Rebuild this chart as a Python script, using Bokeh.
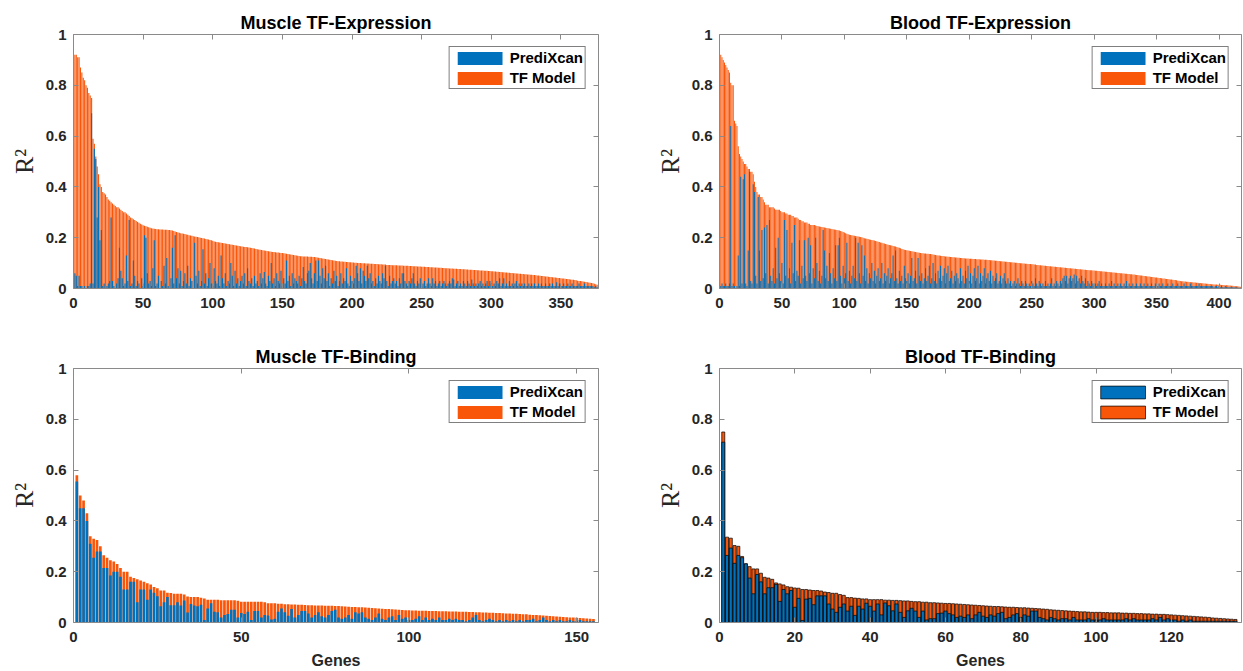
from bokeh.plotting import figure
from bokeh.models import (ColumnDataSource, Range1d, LinearAxis, FixedTicker,
                          NumeralTickFormatter, Legend, LegendItem)
from bokeh.layouts import column, row
from bokeh.embed import file_html
from bokeh.resources import INLINE

# ---------------- data ----------------
series_names = ["PrediXcan", "TF Model"]
panel_titles = ["Muscle TF-Expression", "Blood TF-Expression", "Muscle TF-Binding", "Blood TF-Binding"]
y_ticks = [0, 0.2, 0.4, 0.6, 0.8, 1]
x_ticks_muscle_expr = [0, 50, 100, 150, 200, 250, 300, 350]
x_ticks_blood_expr = [0, 50, 100, 150, 200, 250, 300, 350, 400]
x_ticks_muscle_bind = [0, 50, 100, 150]
x_ticks_blood_bind = [0, 20, 40, 60, 80, 100, 120]

muscle_expr_tf = [
    0.92, 0.92, 0.91, 0.91, 0.87, 0.85, 0.83, 0.82, 0.80, 0.79,
    0.77, 0.76, 0.75, 0.59, 0.57, 0.52, 0.48, 0.45, 0.41, 0.40,
    0.38, 0.375, 0.37, 0.36, 0.35, 0.345, 0.34, 0.335, 0.33, 0.325,
    0.32, 0.32, 0.315, 0.31, 0.305, 0.30, 0.30, 0.295, 0.29, 0.285,
    0.280, 0.277, 0.273, 0.270, 0.266, 0.262, 0.259, 0.255, 0.252, 0.249,
    0.247, 0.245, 0.243, 0.241, 0.239, 0.237, 0.236, 0.235, 0.234, 0.233,
    0.233, 0.232, 0.232, 0.232, 0.231, 0.231, 0.231, 0.230, 0.230, 0.229,
    0.228, 0.226, 0.224, 0.222, 0.220, 0.219, 0.218, 0.217, 0.216, 0.215,
    0.213, 0.212, 0.210, 0.209, 0.208, 0.206, 0.205, 0.204, 0.203, 0.202,
    0.200, 0.199, 0.198, 0.197, 0.195, 0.194, 0.193, 0.191, 0.190, 0.188,
    0.185, 0.184, 0.183, 0.182, 0.181, 0.180, 0.179, 0.178, 0.177, 0.176,
    0.175, 0.174, 0.173, 0.172, 0.171, 0.170, 0.169, 0.168, 0.167, 0.166,
    0.165, 0.164, 0.163, 0.163, 0.162, 0.161, 0.160, 0.159, 0.158, 0.157,
    0.156, 0.155, 0.154, 0.153, 0.152, 0.151, 0.150, 0.149, 0.148, 0.147,
    0.146, 0.145, 0.144, 0.144, 0.143, 0.142, 0.142, 0.141, 0.140, 0.140,
    0.139, 0.138, 0.137, 0.136, 0.135, 0.134, 0.133, 0.132, 0.131, 0.130,
    0.129, 0.128, 0.127, 0.127, 0.126, 0.126, 0.126, 0.126, 0.125, 0.125,
    0.125, 0.124, 0.124, 0.123, 0.122, 0.121, 0.120, 0.119, 0.118, 0.117,
    0.116, 0.115, 0.114, 0.113, 0.112, 0.111, 0.110, 0.109, 0.108, 0.107,
    0.107, 0.106, 0.106, 0.105, 0.105, 0.104, 0.104, 0.103, 0.103, 0.102,
    0.102, 0.101, 0.101, 0.100, 0.100, 0.100, 0.099, 0.099, 0.099, 0.098,
    0.098, 0.098, 0.097, 0.097, 0.097, 0.096, 0.096, 0.096, 0.095, 0.095,
    0.095, 0.094, 0.094, 0.094, 0.093, 0.093, 0.093, 0.093, 0.092, 0.092,
    0.092, 0.092, 0.091, 0.091, 0.091, 0.091, 0.090, 0.090, 0.090, 0.090,
    0.089, 0.089, 0.089, 0.088, 0.088, 0.088, 0.087, 0.087, 0.087, 0.086,
    0.086, 0.086, 0.085, 0.085, 0.085, 0.084, 0.084, 0.084, 0.083, 0.083,
    0.083, 0.082, 0.082, 0.082, 0.081, 0.081, 0.080, 0.080, 0.080, 0.079,
    0.079, 0.079, 0.078, 0.078, 0.078, 0.077, 0.077, 0.077, 0.076, 0.076,
    0.076, 0.075, 0.075, 0.074, 0.074, 0.074, 0.073, 0.073, 0.073, 0.072,
    0.072, 0.071, 0.071, 0.071, 0.070, 0.070, 0.070, 0.069, 0.069, 0.068,
    0.068, 0.067, 0.067, 0.066, 0.066, 0.065, 0.065, 0.064, 0.064, 0.063,
    0.063, 0.062, 0.062, 0.061, 0.061, 0.060, 0.060, 0.059, 0.059, 0.058,
    0.058, 0.057, 0.057, 0.056, 0.056, 0.055, 0.055, 0.054, 0.054, 0.053,
    0.053, 0.052, 0.051, 0.051, 0.050, 0.049, 0.049, 0.048, 0.047, 0.047,
    0.046, 0.045, 0.045, 0.044, 0.043, 0.043, 0.042, 0.041, 0.041, 0.040,
    0.039, 0.039, 0.038, 0.037, 0.037, 0.036, 0.035, 0.034, 0.034, 0.033,
    0.032, 0.031, 0.030, 0.030, 0.029, 0.028, 0.027, 0.026, 0.025, 0.024,
    0.023, 0.022, 0.021, 0.019, 0.017, 0.015,
]
muscle_expr_px = [
    0.06, 0.05, 0.01, 0.05, 0.01, 0.01, 0.00, 0.01, 0.00, 0.01,
    0.01, 0.02, 0.69, 0.02, 0.55, 0.51, 0.28, 0.40, 0.19, 0.23,
    0.01, 0.02, 0.00, 0.01, 0.02, 0.03, 0.28, 0.03, 0.01, 0.00,
    0.02, 0.04, 0.16, 0.07, 0.04, 0.01, 0.02, 0.13, 0.03, 0.27,
    0.01, 0.02, 0.11, 0.05, 0.01, 0.03, 0.02, 0.00, 0.04, 0.01,
    0.21, 0.20, 0.06, 0.02, 0.03, 0.01, 0.08, 0.19, 0.01, 0.02,
    0.05, 0.00, 0.03, 0.01, 0.09, 0.02, 0.12, 0.01, 0.00, 0.04,
    0.16, 0.02, 0.21, 0.04, 0.08, 0.02, 0.07, 0.01, 0.03, 0.06,
    0.02, 0.09, 0.01, 0.04, 0.03, 0.00, 0.18, 0.05, 0.02, 0.07,
    0.01, 0.03, 0.155, 0.02, 0.06, 0.01, 0.04, 0.10, 0.02, 0.01,
    0.08, 0.03, 0.02, 0.05, 0.01, 0.13, 0.04, 0.02, 0.06, 0.01,
    0.03, 0.02, 0.10, 0.05, 0.01, 0.07, 0.02, 0.04, 0.01, 0.03,
    0.05, 0.02, 0.06, 0.01, 0.08, 0.03, 0.02, 0.04, 0.01, 0.05,
    0.02, 0.03, 0.01, 0.06, 0.02, 0.04, 0.065, 0.02, 0.01, 0.05,
    0.03, 0.10, 0.02, 0.04, 0.01, 0.06, 0.03, 0.02, 0.07, 0.01,
    0.04, 0.02, 0.11, 0.03, 0.05, 0.01, 0.06, 0.02, 0.04, 0.03,
    0.02, 0.05, 0.01, 0.04, 0.085, 0.03, 0.02, 0.06, 0.07, 0.10,
    0.04, 0.02, 0.06, 0.11, 0.03, 0.11, 0.05, 0.02, 0.08, 0.04,
    0.09, 0.03, 0.06, 0.01, 0.04, 0.02, 0.07, 0.03, 0.05, 0.01,
    0.03, 0.06, 0.02, 0.04, 0.03, 0.08, 0.02, 0.01, 0.05, 0.03,
    0.02, 0.04, 0.09, 0.06, 0.03, 0.08, 0.02, 0.07, 0.05, 0.03,
    0.09, 0.04, 0.06, 0.02, 0.03, 0.01, 0.04, 0.02, 0.05, 0.03,
    0.02, 0.06, 0.04, 0.09, 0.03, 0.01, 0.05, 0.02, 0.03, 0.04,
    0.02, 0.03, 0.01, 0.04, 0.02, 0.06, 0.06, 0.03, 0.02, 0.01,
    0.03, 0.02, 0.04, 0.06, 0.02, 0.01, 0.03, 0.02, 0.04, 0.01,
    0.02, 0.03, 0.01, 0.02, 0.04, 0.02, 0.01, 0.04, 0.02, 0.03,
    0.01, 0.02, 0.03, 0.01, 0.02, 0.03, 0.02, 0.01, 0.02, 0.03,
    0.02, 0.04, 0.035, 0.01, 0.02, 0.03, 0.01, 0.02, 0.01, 0.03,
    0.02, 0.01, 0.03, 0.02, 0.01, 0.035, 0.02, 0.01, 0.02, 0.01,
    0.02, 0.03, 0.01, 0.02, 0.01, 0.02, 0.03, 0.01, 0.03, 0.02,
    0.01, 0.02, 0.01, 0.03, 0.02, 0.04, 0.01, 0.02, 0.04, 0.01,
    0.02, 0.01, 0.03, 0.01, 0.02, 0.01, 0.02, 0.03, 0.01, 0.02,
    0.01, 0.02, 0.01, 0.02, 0.01, 0.01, 0.02, 0.01, 0.02, 0.01,
    0.02, 0.01, 0.01, 0.02, 0.01, 0.02, 0.01, 0.01, 0.02, 0.01,
    0.01, 0.02, 0.01, 0.02, 0.01, 0.01, 0.025, 0.01, 0.02, 0.01,
    0.01, 0.02, 0.01, 0.01, 0.02, 0.01, 0.01, 0.02, 0.01, 0.01,
    0.01, 0.01, 0.02, 0.01, 0.01, 0.01, 0.02, 0.01, 0.01, 0.01,
    0.01, 0.01, 0.01, 0.005, 0.01, 0.005,
]

blood_expr_tf = [
    0.92, 0.91, 0.90, 0.89, 0.88, 0.87, 0.86, 0.85, 0.81, 0.80,
    0.80, 0.66, 0.65, 0.64, 0.56, 0.53, 0.52, 0.51, 0.50, 0.49,
    0.49, 0.48, 0.47, 0.47, 0.46, 0.46, 0.45, 0.42, 0.40, 0.38,
    0.37, 0.37, 0.36, 0.36, 0.35, 0.34, 0.33, 0.33, 0.33, 0.32,
    0.32, 0.32, 0.32, 0.315, 0.31, 0.31, 0.31, 0.31, 0.305, 0.30,
    0.30, 0.30, 0.295, 0.295, 0.29, 0.29, 0.29, 0.285, 0.285, 0.28,
    0.28, 0.28, 0.275, 0.27, 0.27, 0.265, 0.265, 0.26, 0.26, 0.26,
    0.255, 0.255, 0.25, 0.25, 0.25, 0.25, 0.248, 0.246, 0.245, 0.244,
    0.243, 0.242, 0.241, 0.240, 0.239, 0.238, 0.237, 0.236, 0.235, 0.234,
    0.233, 0.232, 0.231, 0.230, 0.229, 0.228, 0.226, 0.224, 0.222, 0.220,
    0.218, 0.216, 0.214, 0.212, 0.211, 0.210, 0.209, 0.208, 0.207, 0.206,
    0.205, 0.204, 0.203, 0.202, 0.200, 0.198, 0.197, 0.196, 0.195, 0.193,
    0.192, 0.191, 0.190, 0.189, 0.187, 0.186, 0.184, 0.183, 0.181, 0.180,
    0.178, 0.177, 0.175, 0.174, 0.172, 0.171, 0.170, 0.169, 0.167, 0.166,
    0.165, 0.163, 0.161, 0.160, 0.158, 0.156, 0.155, 0.153, 0.152, 0.151,
    0.150, 0.149, 0.148, 0.147, 0.146, 0.145, 0.144, 0.143, 0.142, 0.141,
    0.140, 0.139, 0.139, 0.138, 0.138, 0.137, 0.137, 0.136, 0.136, 0.135,
    0.134, 0.133, 0.132, 0.131, 0.130, 0.130, 0.129, 0.128, 0.128, 0.127,
    0.126, 0.126, 0.125, 0.125, 0.124, 0.124, 0.123, 0.123, 0.122, 0.122,
    0.121, 0.121, 0.120, 0.120, 0.119, 0.119, 0.118, 0.118, 0.118, 0.117,
    0.117, 0.117, 0.116, 0.116, 0.116, 0.115, 0.115, 0.115, 0.114, 0.114,
    0.114, 0.113, 0.113, 0.113, 0.112, 0.112, 0.111, 0.111, 0.110, 0.110,
    0.109, 0.109, 0.108, 0.108, 0.107, 0.107, 0.106, 0.106, 0.105, 0.105,
    0.104, 0.104, 0.103, 0.103, 0.102, 0.102, 0.101, 0.101, 0.100, 0.100,
    0.099, 0.099, 0.098, 0.098, 0.097, 0.097, 0.096, 0.096, 0.096, 0.095,
    0.095, 0.094, 0.094, 0.093, 0.093, 0.092, 0.092, 0.091, 0.091, 0.090,
    0.090, 0.089, 0.089, 0.088, 0.088, 0.087, 0.087, 0.086, 0.086, 0.085,
    0.085, 0.084, 0.084, 0.083, 0.083, 0.082, 0.082, 0.081, 0.081, 0.080,
    0.080, 0.079, 0.079, 0.078, 0.078, 0.077, 0.077, 0.076, 0.076, 0.075,
    0.075, 0.074, 0.074, 0.073, 0.073, 0.072, 0.072, 0.072, 0.071, 0.071,
    0.070, 0.070, 0.069, 0.069, 0.068, 0.068, 0.067, 0.067, 0.066, 0.066,
    0.065, 0.065, 0.064, 0.064, 0.063, 0.063, 0.062, 0.062, 0.061, 0.061,
    0.060, 0.060, 0.059, 0.059, 0.058, 0.058, 0.057, 0.057, 0.056, 0.056,
    0.055, 0.055, 0.054, 0.053, 0.053, 0.052, 0.051, 0.051, 0.050, 0.049,
    0.049, 0.048, 0.047, 0.047, 0.046, 0.045, 0.045, 0.044, 0.043, 0.043,
    0.042, 0.041, 0.041, 0.040, 0.039, 0.039, 0.038, 0.037, 0.037, 0.036,
    0.035, 0.035, 0.034, 0.033, 0.033, 0.032, 0.031, 0.031, 0.030, 0.029,
    0.029, 0.028, 0.028, 0.027, 0.027, 0.026, 0.026, 0.025, 0.025, 0.024,
    0.024, 0.023, 0.023, 0.022, 0.022, 0.021, 0.021, 0.020, 0.020, 0.019,
    0.019, 0.018, 0.018, 0.017, 0.017, 0.016, 0.016, 0.016, 0.015, 0.015,
    0.015, 0.014, 0.014, 0.014, 0.013, 0.013, 0.013, 0.012, 0.012, 0.011,
    0.011, 0.010, 0.010, 0.009, 0.009, 0.008, 0.007,
]
blood_expr_px = [
    0.01, 0.02, 0.01, 0.01, 0.02, 0.01, 0.01, 0.02, 0.64, 0.01,
    0.02, 0.01, 0.00, 0.01, 0.13, 0.01, 0.44, 0.02, 0.43, 0.45,
    0.02, 0.01, 0.15, 0.46, 0.03, 0.02, 0.41, 0.38, 0.05, 0.02,
    0.36, 0.15, 0.03, 0.23, 0.04, 0.24, 0.06, 0.25, 0.02, 0.27,
    0.05, 0.03, 0.08, 0.02, 0.16, 0.04, 0.20, 0.06, 0.03, 0.10,
    0.02, 0.27, 0.05, 0.23, 0.04, 0.08, 0.02, 0.18, 0.06, 0.25,
    0.03, 0.07, 0.05, 0.19, 0.02, 0.09, 0.04, 0.19, 0.05, 0.03,
    0.20, 0.06, 0.17, 0.02, 0.08, 0.04, 0.20, 0.10, 0.03, 0.07,
    0.02, 0.05, 0.23, 0.15, 0.04, 0.09, 0.03, 0.14, 0.06, 0.02,
    0.08, 0.04, 0.17, 0.03, 0.17, 0.20, 0.05, 0.02, 0.09, 0.04,
    0.06, 0.18, 0.03, 0.07, 0.02, 0.05, 0.09, 0.04, 0.20, 0.03,
    0.18, 0.06, 0.02, 0.17, 0.05, 0.13, 0.03, 0.08, 0.02, 0.06,
    0.04, 0.10, 0.03, 0.07, 0.02, 0.05, 0.08, 0.03, 0.04, 0.10,
    0.02, 0.06, 0.03, 0.05, 0.08, 0.02, 0.04, 0.06, 0.13, 0.03,
    0.15, 0.04, 0.02, 0.07, 0.03, 0.05, 0.02, 0.09, 0.04, 0.03,
    0.06, 0.02, 0.05, 0.12, 0.03, 0.04, 0.07, 0.02, 0.12, 0.05,
    0.03, 0.06, 0.02, 0.04, 0.08, 0.03, 0.05, 0.09, 0.02, 0.04,
    0.10, 0.03, 0.06, 0.02, 0.07, 0.04, 0.09, 0.03, 0.05, 0.08,
    0.02, 0.06, 0.09, 0.03, 0.04, 0.07, 0.02, 0.05, 0.03, 0.06,
    0.04, 0.02, 0.08, 0.03, 0.05, 0.02, 0.07, 0.04, 0.09, 0.03,
    0.06, 0.02, 0.05, 0.08, 0.03, 0.04, 0.09, 0.02, 0.06, 0.03,
    0.05, 0.08, 0.02, 0.04, 0.06, 0.03, 0.07, 0.02, 0.05, 0.03,
    0.04, 0.06, 0.02, 0.03, 0.05, 0.02, 0.04, 0.06, 0.03, 0.02,
    0.04, 0.02, 0.03, 0.01, 0.02, 0.03, 0.01, 0.02, 0.04, 0.02,
    0.01, 0.03, 0.02, 0.01, 0.03, 0.02, 0.01, 0.02, 0.01, 0.03,
    0.02, 0.01, 0.04, 0.02, 0.01, 0.03, 0.02, 0.01, 0.02, 0.01,
    0.03, 0.01, 0.02, 0.01, 0.02, 0.04, 0.01, 0.02, 0.01, 0.03,
    0.02, 0.01, 0.03, 0.02, 0.04, 0.05, 0.03, 0.05, 0.02, 0.04,
    0.05, 0.03, 0.04, 0.055, 0.02, 0.05, 0.03, 0.04, 0.02, 0.05,
    0.03, 0.02, 0.04, 0.01, 0.03, 0.02, 0.01, 0.03, 0.02, 0.01,
    0.02, 0.01, 0.02, 0.03, 0.01, 0.02, 0.01, 0.01, 0.02, 0.01,
    0.01, 0.02, 0.01, 0.03, 0.01, 0.02, 0.01, 0.01, 0.02, 0.01,
    0.02, 0.01, 0.01, 0.02, 0.01, 0.03, 0.01, 0.02, 0.01, 0.01,
    0.02, 0.01, 0.01, 0.02, 0.01, 0.01, 0.02, 0.01, 0.01, 0.02,
    0.01, 0.01, 0.02, 0.01, 0.01, 0.02, 0.01, 0.01, 0.02, 0.01,
    0.01, 0.02, 0.01, 0.01, 0.02, 0.01, 0.01, 0.01, 0.02, 0.01,
    0.01, 0.01, 0.02, 0.01, 0.01, 0.01, 0.02, 0.01, 0.01, 0.01,
    0.01, 0.02, 0.01, 0.01, 0.01, 0.01, 0.02, 0.01, 0.01, 0.01,
    0.01, 0.01, 0.01, 0.02, 0.01, 0.01, 0.01, 0.01, 0.01, 0.01,
    0.01, 0.01, 0.01, 0.01, 0.01, 0.005, 0.01, 0.01, 0.005, 0.01,
    0.005, 0.01, 0.005, 0.005, 0.01, 0.005, 0.005, 0.005, 0.005, 0.005,
    0.005, 0.005, 0.005, 0.004, 0.004, 0.003, 0.003,
]

muscle_bind_tf = [
    0.58, 0.50, 0.48, 0.43, 0.34, 0.33, 0.325, 0.30, 0.265, 0.255,
    0.245, 0.24, 0.23, 0.215, 0.20, 0.20, 0.18, 0.175, 0.17, 0.165,
    0.16, 0.155, 0.15, 0.14, 0.135, 0.126, 0.126, 0.117, 0.116, 0.113,
    0.113, 0.113, 0.11, 0.102, 0.10, 0.10, 0.10, 0.097, 0.094, 0.09,
    0.09, 0.09, 0.09, 0.088, 0.088, 0.088, 0.088, 0.088, 0.086, 0.082,
    0.082, 0.082, 0.082, 0.082, 0.082, 0.082, 0.08, 0.076, 0.076, 0.076,
    0.074, 0.074, 0.072, 0.072, 0.071, 0.071, 0.070, 0.070, 0.069, 0.068,
    0.068, 0.067, 0.067, 0.067, 0.066, 0.066, 0.066, 0.065, 0.065, 0.064,
    0.063, 0.062, 0.061, 0.061, 0.060, 0.060, 0.059, 0.058, 0.057, 0.056,
    0.055, 0.054, 0.053, 0.053, 0.052, 0.051, 0.050, 0.049, 0.048, 0.048,
    0.047, 0.047, 0.046, 0.046, 0.046, 0.045, 0.045, 0.045, 0.044, 0.044,
    0.044, 0.043, 0.043, 0.043, 0.042, 0.042, 0.042, 0.041, 0.041, 0.040,
    0.040, 0.039, 0.039, 0.038, 0.038, 0.037, 0.037, 0.036, 0.035, 0.035,
    0.034, 0.034, 0.033, 0.032, 0.032, 0.031, 0.030, 0.030, 0.029, 0.028,
    0.027, 0.026, 0.025, 0.024, 0.023, 0.022, 0.021, 0.020, 0.020, 0.019,
    0.018, 0.017, 0.016, 0.015, 0.014,
]
muscle_bind_px = [
    0.555, 0.45, 0.45, 0.40, 0.31, 0.255, 0.28, 0.28, 0.215, 0.215,
    0.185, 0.20, 0.20, 0.18, 0.13, 0.13, 0.16, 0.16, 0.08, 0.13,
    0.13, 0.09, 0.13, 0.117, 0.103, 0.064, 0.08, 0.10, 0.068, 0.068,
    0.08, 0.067, 0.087, 0.039, 0.073, 0.067, 0.064, 0.07, 0.01, 0.055,
    0.076, 0.042, 0.04, 0.02, 0.03, 0.033, 0.05, 0.05, 0.02, 0.037,
    0.033, 0.042, 0.01, 0.045, 0.045, 0.02, 0.03, 0.028, 0.012, 0.015,
    0.042, 0.055, 0.04, 0.027, 0.053, 0.02, 0.03, 0.045, 0.045, 0.035,
    0.02, 0.03, 0.04, 0.025, 0.02, 0.03, 0.045, 0.05, 0.02, 0.015,
    0.02, 0.03, 0.015, 0.04, 0.035, 0.04, 0.02, 0.015, 0.01, 0.02,
    0.035, 0.015, 0.01, 0.02, 0.025, 0.01, 0.03, 0.015, 0.02, 0.01,
    0.01, 0.015, 0.025, 0.01, 0.02, 0.01, 0.015, 0.01, 0.02, 0.01,
    0.01, 0.015, 0.01, 0.015, 0.01, 0.01, 0.005, 0.01, 0.02, 0.03,
    0.01, 0.005, 0.01, 0.015, 0.01, 0.005, 0.01, 0.005, 0.01, 0.005,
    0.01, 0.005, 0.01, 0.005, 0.01, 0.01, 0.015, 0.005, 0.01, 0.02,
    0.01, 0.005, 0.01, 0.005, 0.01, 0.005, 0.005, 0.01, 0.005, 0.005,
    0.01, 0.005, 0.005, 0.005, 0.005,
]

blood_bind_tf = [
    0.75, 0.336, 0.332, 0.303, 0.30, 0.26, 0.231, 0.22, 0.211, 0.211,
    0.194, 0.178, 0.175, 0.17, 0.156, 0.152, 0.148, 0.141, 0.139, 0.136,
    0.135, 0.13, 0.13, 0.128, 0.126, 0.126, 0.124, 0.12, 0.118, 0.115,
    0.115, 0.11, 0.107, 0.098, 0.098, 0.096, 0.095, 0.093, 0.093, 0.09,
    0.09, 0.09, 0.09, 0.088, 0.088, 0.087, 0.087, 0.086, 0.085, 0.085,
    0.083, 0.082, 0.082, 0.08, 0.08, 0.078, 0.078, 0.077, 0.076, 0.075,
    0.075, 0.074, 0.073, 0.072, 0.071, 0.070, 0.069, 0.068, 0.067, 0.066,
    0.065, 0.064, 0.063, 0.063, 0.062, 0.061, 0.060, 0.060, 0.059, 0.058,
    0.058, 0.057, 0.056, 0.055, 0.054, 0.053, 0.052, 0.050, 0.049, 0.048,
    0.047, 0.046, 0.045, 0.044, 0.043, 0.042, 0.042, 0.041, 0.040, 0.040,
    0.040, 0.039, 0.039, 0.038, 0.038, 0.038, 0.037, 0.037, 0.036, 0.036,
    0.035, 0.035, 0.034, 0.034, 0.033, 0.033, 0.032, 0.032, 0.031, 0.030,
    0.029, 0.028, 0.027, 0.026, 0.025, 0.024, 0.023, 0.022, 0.021, 0.020,
    0.018, 0.017, 0.016, 0.015, 0.014, 0.013, 0.012,
]
blood_bind_px = [
    0.71, 0.264, 0.293, 0.233, 0.264, 0.255, 0.231, 0.175, 0.113, 0.189,
    0.16, 0.113, 0.137, 0.137, 0.15, 0.083, 0.13, 0.113, 0.126, 0.06,
    0.095, 0.008, 0.092, 0.095, 0.07, 0.105, 0.105, 0.105, 0.073, 0.053,
    0.04, 0.06, 0.073, 0.045, 0.064, 0.028, 0.064, 0.053, 0.076, 0.064,
    0.045, 0.073, 0.03, 0.077, 0.066, 0.046, 0.073, 0.04, 0.02, 0.046,
    0.056, 0.045, 0.02, 0.045, 0.01, 0.015, 0.015, 0.035, 0.037, 0.045,
    0.035, 0.03, 0.02, 0.025, 0.02, 0.03, 0.015, 0.03, 0.04, 0.025,
    0.02, 0.03, 0.025, 0.035, 0.04, 0.015, 0.02, 0.03, 0.035, 0.02,
    0.03, 0.025, 0.045, 0.045, 0.02, 0.015, 0.01, 0.02, 0.015, 0.01,
    0.015, 0.015, 0.01, 0.02, 0.01, 0.01, 0.01, 0.015, 0.01, 0.01,
    0.01, 0.015, 0.01, 0.01, 0.01, 0.01, 0.01, 0.015, 0.01, 0.015,
    0.01, 0.01, 0.01, 0.01, 0.015, 0.01, 0.02, 0.01, 0.015, 0.01,
    0.01, 0.005, 0.01, 0.005, 0.01, 0.005, 0.005, 0.005, 0.005, 0.005,
    0.005, 0.005, 0.005, 0.005, 0.005, 0.005, 0.005,
]

for a, b in [(muscle_expr_tf, muscle_expr_px), (blood_expr_tf, blood_expr_px),
             (muscle_bind_tf, muscle_bind_px), (blood_bind_tf, blood_bind_px)]:
    assert len(a) == len(b), (len(a), len(b))

# ---------------- style ----------------
BLUE = "#0072BD"
ORANGE = "#F9560A"
AXIS_COLOR = "#8a8a8a"
TEXT_COLOR = "#262626"
FONT = "Liberation Sans"


def style_axis(ax):
    ax.axis_line_color = AXIS_COLOR
    ax.major_tick_line_color = AXIS_COLOR
    ax.major_tick_in = 5
    ax.major_tick_out = 0
    ax.minor_tick_line_color = None
    ax.major_label_text_font = FONT
    ax.major_label_text_font_style = "bold"
    ax.major_label_text_font_size = "15px"
    ax.major_label_text_color = TEXT_COLOR


def panel(title, tf, px, xend, xticks, frame_w, lb, rb, tb, bb, xlabel=None, edge=False):
    n = len(tf)
    src = ColumnDataSource(dict(x=list(range(1, n + 1)), tf=tf, px=px))
    p = figure(frame_width=frame_w, frame_height=254,
               x_range=Range1d(0, xend), y_range=Range1d(0, 1),
               output_backend="svg", toolbar_location=None, title=title,
               min_border_left=lb, min_border_right=rb,
               min_border_top=tb, min_border_bottom=bb)
    p.xgrid.visible = False
    p.ygrid.visible = False
    p.outline_line_color = None
    p.background_fill_color = "white"
    p.border_fill_color = "white"

    p.title.text_font = FONT
    p.title.text_font_size = "18px"
    p.title.text_font_style = "bold"
    p.title.text_color = "black"
    p.title.align = "center"
    p.title.standoff = 4
    p.title.offset = 0

    style_axis(p.xaxis[0])
    style_axis(p.yaxis[0])
    p.xaxis.ticker = FixedTicker(ticks=xticks)
    p.yaxis.ticker = FixedTicker(ticks=y_ticks)
    p.yaxis.formatter = NumeralTickFormatter(format="0.[0]")
    p.xaxis.major_label_standoff = 9
    p.yaxis.major_label_standoff = 7
    p.yaxis.axis_label = "R\u00b2"
    p.yaxis.axis_label_text_font = "Liberation Serif"
    p.yaxis.axis_label_text_font_size = "26px"
    p.yaxis.axis_label_text_font_style = "normal"
    p.yaxis.axis_label_text_color = TEXT_COLOR
    p.yaxis.axis_label_standoff = 4
    if xlabel:
        p.xaxis.axis_label = xlabel
        p.xaxis.axis_label_text_font = FONT
        p.xaxis.axis_label_text_font_style = "bold"
        p.xaxis.axis_label_text_font_size = "16px"
        p.xaxis.axis_label_text_color = TEXT_COLOR
        p.xaxis.axis_label_standoff = 7

    # box ticks on top and right
    top = LinearAxis(ticker=FixedTicker(ticks=xticks))
    right = LinearAxis(ticker=FixedTicker(ticks=y_ticks))
    for ax in (top, right):
        ax.axis_line_color = AXIS_COLOR
        ax.major_tick_line_color = AXIS_COLOR
        ax.major_tick_in = 5
        ax.major_tick_out = 0
        ax.minor_tick_line_color = None
        ax.major_label_text_font_size = "0px"
        ax.major_label_standoff = 0
    top.major_label_overrides = {t: "" for t in xticks}
    right.major_label_overrides = {t: "" for t in y_ticks}
    p.add_layout(top, "above")
    p.add_layout(right, "right")

    kw = dict(line_color="black", line_width=0.7) if edge else dict(line_color=None)
    r_tf = p.vbar(x="x", top="tf", width=0.8, source=src, fill_color=ORANGE, **kw)
    r_px = p.vbar(x="x", top="px", width=0.8, source=src, fill_color=BLUE, **kw)

    legend = Legend(items=[LegendItem(label=series_names[0], renderers=[r_px]),
                           LegendItem(label=series_names[1], renderers=[r_tf])],
                    location="top_right")
    legend.label_text_font = FONT
    legend.label_text_font_style = "bold"
    legend.label_text_font_size = "15px"
    legend.label_text_color = "black"
    legend.border_line_color = "black"
    legend.border_line_width = 1
    legend.background_fill_color = "white"
    legend.background_fill_alpha = 1
    legend.glyph_width = 56
    legend.glyph_height = 16
    legend.label_height = 16
    legend.label_standoff = 2
    legend.spacing = 3
    legend.padding = 2
    legend.margin = 12
    p.add_layout(legend)
    return p


p1 = panel(panel_titles[0], muscle_expr_tf, muscle_expr_px, 377, x_ticks_muscle_expr,
           525, 73, 10, 34, 30)
p2 = panel(panel_titles[1], blood_expr_tf, blood_expr_px, 418, x_ticks_blood_expr,
           522, 111, 2, 34, 30)
p3 = panel(panel_titles[2], muscle_bind_tf, muscle_bind_px, 156.5, x_ticks_muscle_bind,
           525, 73, 10, 50, 49, xlabel="Genes")
p4 = panel(panel_titles[3], blood_bind_tf, blood_bind_px, 138.6, x_ticks_blood_bind,
           522, 111, 2, 50, 49, xlabel="Genes", edge=True)

layout = column(row(p1, p2), row(p3, p4))

open("out.html", "w").write(file_html(layout, INLINE))
